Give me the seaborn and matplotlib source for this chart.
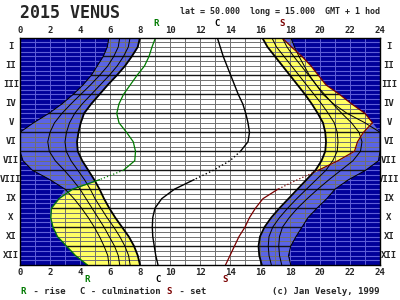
import numpy as np
import matplotlib
matplotlib.use("Agg")
import matplotlib.pyplot as plt
import matplotlib.transforms as mtrans
import seaborn as sns

# ---- data (month position: 0 = 1 Jan ... 12 = 31 Dec; values in hours) ----
months = [0, 0.5, 1, 1.5, 2, 2.5, 3, 3.5, 4, 4.5, 5, 5.5, 6, 6.5, 7, 7.5, 8, 8.5, 9, 9.5, 10, 10.5, 11, 11.5, 12]

sunrise     = [8.00, 7.85, 7.45, 7.00, 6.45, 5.85, 5.30, 4.75, 4.27, 4.05, 3.90, 3.80, 3.85, 4.15, 4.55, 4.95, 5.30, 5.60, 5.95, 6.35, 6.80, 7.25, 7.60, 7.85, 8.00]
civil_start = [7.34, 7.22, 6.90, 6.48, 5.95, 5.35, 4.75, 4.15, 3.65, 3.30, 3.10, 3.00, 3.08, 3.40, 3.85, 4.30, 4.68, 5.00, 5.40, 5.80, 6.25, 6.65, 6.99, 7.24, 7.34]
naut_start  = [6.65, 6.55, 6.25, 5.85, 5.30, 4.70, 4.05, 3.40, 2.80, 2.30, 2.00, 1.85, 1.95, 2.35, 2.95, 3.50, 4.00, 4.40, 4.80, 5.20, 5.60, 5.95, 6.30, 6.55, 6.65]
astro_start = [5.93, 5.82, 5.55, 5.15, 4.75, 4.20, 3.55, 2.80, 1.93, 0.90, 0.00, 0.00, 0.00, 0.20, 0.82, 2.00, 3.00, 3.60, 4.10, 4.55, 4.95, 5.30, 5.60, 5.85, 5.93]

sunset      = [16.14, 16.50, 17.00, 17.50, 18.00, 18.50, 19.00, 19.45, 19.85, 20.20, 20.35, 20.40, 20.35, 20.10, 19.70, 19.10, 18.50, 17.90, 17.30, 16.75, 16.30, 16.00, 15.90, 15.95, 16.12]
civil_end   = [16.78, 17.10, 17.60, 18.10, 18.60, 19.10, 19.60, 20.10, 20.55, 20.95, 21.15, 21.20, 21.15, 20.85, 20.40, 19.75, 19.10, 18.45, 17.85, 17.30, 16.85, 16.60, 16.55, 16.60, 16.76]
naut_end    = [17.47, 17.80, 18.25, 18.75, 19.25, 19.75, 20.30, 20.85, 21.45, 22.10, 22.60, 22.80, 22.70, 22.20, 21.40, 20.60, 19.85, 19.15, 18.50, 17.95, 17.50, 17.30, 17.25, 17.30, 17.45]
astro_end   = [18.05, 18.30, 18.60, 18.95, 19.30, 19.75, 20.20, 20.90, 21.80, 23.00, 24.00, 24.00, 24.00, 23.90, 23.05, 21.90, 21.00, 20.45, 19.80, 19.20, 18.80, 18.40, 18.05, 17.90, 18.05]

venus_rise  = [9.04, 8.80, 8.60, 8.30, 7.80, 7.35, 6.90, 6.60, 6.45, 6.60, 7.10, 7.55, 7.70, 7.65, 6.90, 5.30, 3.50, 2.60, 2.10, 2.05, 2.20, 2.50, 3.10, 3.70, 4.50]
venus_culm  = [13.15, 13.35, 13.55, 13.80, 14.05, 14.30, 14.55, 14.85, 15.05, 15.20, 15.30, 15.20, 14.70, 14.00, 12.90, 11.60, 10.30, 9.45, 9.00, 8.85, 8.82, 8.85, 8.95, 9.05, 9.20]
venus_set   = [17.45, 18.10, 18.80, 19.40, 19.90, 20.40, 21.30, 22.10, 23.00, 23.50, 22.90, 22.50, 22.30, 21.20, 19.90, 18.50, 17.20, 16.20, 15.70, 15.30, 15.00, 14.60, 14.30, 14.00, 13.70]

hour_ticks = list(range(0, 25, 2))
month_labels = ["I", "II", "III", "IV", "V", "VI", "VII", "VIII", "IX", "X", "XI", "XII"]

DARK = "#00009a"
LIGHT = "#5a64e6"
YELLOW = "#ffff64"
GREEN = "#007a00"
RED = "#7a0000"
GRID_DARK = "#707070"
GRID_LIGHT = "#5e5ed8"

sns.set_style("white")
plt.rcParams["font.family"] = ["DejaVu Sans Mono", "DejaVu Sans"]

m = np.array(months)
sr, ss = np.array(sunrise), np.array(sunset)
a_s, a_e = np.array(astro_start), np.array(astro_end)
vr, vs = np.array(venus_rise), np.array(venus_set)
# exposed night (no twilight, Venus below horizon)
dark_left = np.minimum(a_s, vr)
dark_right = np.maximum(a_e, vs)

fig = plt.figure(figsize=(4, 3), dpi=100)
fig.patch.set_facecolor("white")
ax = fig.add_axes([0.05, 0.1167, 0.9, 0.7583])
ax.set_facecolor(LIGHT)
ax.set_xlim(0, 24)
ax.set_ylim(12, 0)

ax.fill_betweenx(m, sr, ss, color="white", lw=0, zorder=1)
ax.fill_betweenx(m, vr, sr, where=vr < sr, interpolate=True, color=YELLOW, lw=0, zorder=2)
ax.fill_betweenx(m, ss, vs, where=vs > ss, interpolate=True, color=YELLOW, lw=0, zorder=2)

# dark grid lines everywhere
for h in range(1, 24):
    ax.axvline(h, color=GRID_DARK, lw=0.7, zorder=3)
for mm in np.arange(0.25, 12, 0.25):
    if abs(mm - round(mm)) < 1e-6:
        ax.axhline(mm, color="#151515", lw=1.0, zorder=3)
    else:
        ax.axhline(mm, color=GRID_DARK, lw=0.7, zorder=3)

# night areas on top, with their own light grid
p1 = ax.fill_betweenx(m, 0, dark_left, where=dark_left > 0, interpolate=True, color=DARK, lw=0, zorder=3.2)
p2 = ax.fill_betweenx(m, dark_right, 24, where=dark_right < 24, interpolate=True, color=DARK, lw=0, zorder=3.2)
for poly in (p1, p2):
    for path in poly.get_paths():
        lines = []
        for h in range(1, 24):
            lines.append(ax.axvline(h, color=GRID_LIGHT, lw=0.7, zorder=3.4))
        for mm in np.arange(0.25, 12, 0.25):
            lines.append(ax.axhline(mm, color=GRID_LIGHT, lw=0.8, zorder=3.4))
        for ln in lines:
            ln.set_clip_path(path, ax.transData)

def draw(values, color, lw, dotted=None):
    v = np.array(values, dtype=float)
    if dotted is None:
        sns.lineplot(x=v, y=m, sort=False, estimator=None, color=color, lw=lw, ax=ax, zorder=5)
        return
    lo, hi = dotted
    solid_a = np.where(m <= lo, v, np.nan)
    dot = np.where((m >= lo) & (m <= hi), v, np.nan)
    solid_b = np.where(m >= hi, v, np.nan)
    for part, ls in [(solid_a, "-"), (dot, ":"), (solid_b, "-")]:
        sns.lineplot(x=part, y=m, sort=False, estimator=None, color=color, lw=lw, ls=ls, ax=ax, zorder=5)

# twilight lines
for arr in (astro_start, naut_start, civil_start, astro_end, naut_end, civil_end):
    draw(arr, "black", 0.7)
draw(sunrise, "black", 1.3)
draw(sunset, "black", 1.3)

# Venus lines (dotted where they sweep fast near conjunction)
draw(venus_rise, GREEN, 0.9, dotted=(7.0, 7.5))
draw(venus_culm, "black", 1.0, dotted=(6.0, 7.5))
draw(venus_set, RED, 0.9, dotted=(7.0, 8.0))

ax.set_xlim(0, 24)
ax.set_ylim(12, 0)
ax.set_xlabel("")
ax.set_ylabel("")
ax.set_xticks(hour_ticks)
ax.set_xticklabels([str(t) for t in hour_ticks], fontsize=6.5, fontweight="bold")
ax.tick_params(axis="x", top=True, labeltop=True, bottom=True, labelbottom=True, length=0, pad=2)
ax.set_yticks([])
for sp in ax.spines.values():
    sp.set_color("black")
    sp.set_linewidth(1.0)
    sp.set_zorder(6)

ty = mtrans.blended_transform_factory(ax.transAxes, ax.transData)
for i, lab in enumerate(month_labels):
    ax.text(-0.025, i + 0.5, lab, transform=ty, fontsize=6.5, fontweight="bold", ha="center", va="center")
    ax.text(1.025, i + 0.5, lab, transform=ty, fontsize=6.5, fontweight="bold", ha="center", va="center")

# R / C / S markers at top (1 Jan) and bottom (31 Dec)
tb = mtrans.blended_transform_factory(ax.transData, fig.transFigure)
for val, lab, col in [(venus_rise[0], "R", GREEN), (venus_culm[0], "C", "black"), (venus_set[0], "S", RED)]:
    ax.text(val, 1 - 24 / 300, lab, transform=tb, fontsize=6.5, fontweight="bold", color=col, ha="center", va="center")
for val, lab, col in [(venus_rise[-1], "R", GREEN), (venus_culm[-1], "C", "black"), (venus_set[-1], "S", RED)]:
    ax.text(val, 1 - 280 / 300, lab, transform=tb, fontsize=6.5, fontweight="bold", color=col, ha="center", va="center")

fig.text(20 / 400, 1 - 13 / 300, "2015 VENUS", fontsize=12, fontweight="bold", ha="left", va="center")
fig.text(380 / 400, 1 - 12 / 300, "lat = 50.000  long = 15.000  GMT + 1 hod", fontsize=6.0,
         fontweight="bold", ha="right", va="center")

ly = 1 - 291 / 300
fig.text(20 / 400, ly, "R", fontsize=6.5, fontweight="bold", color=GREEN, ha="left", va="center")
fig.text(28 / 400, ly, " - rise", fontsize=6.5, fontweight="bold", ha="left", va="center")
fig.text(80 / 400, ly, "C - culmination", fontsize=6.5, fontweight="bold", ha="left", va="center")
fig.text(166 / 400, ly, "S", fontsize=6.5, fontweight="bold", color=RED, ha="left", va="center")
fig.text(174 / 400, ly, " - set", fontsize=6.5, fontweight="bold", ha="left", va="center")
fig.text(380 / 400, ly, "(c) Jan Vesely, 1999", fontsize=6.5, fontweight="bold", ha="right", va="center")

fig.savefig("out.png", dpi=100)
